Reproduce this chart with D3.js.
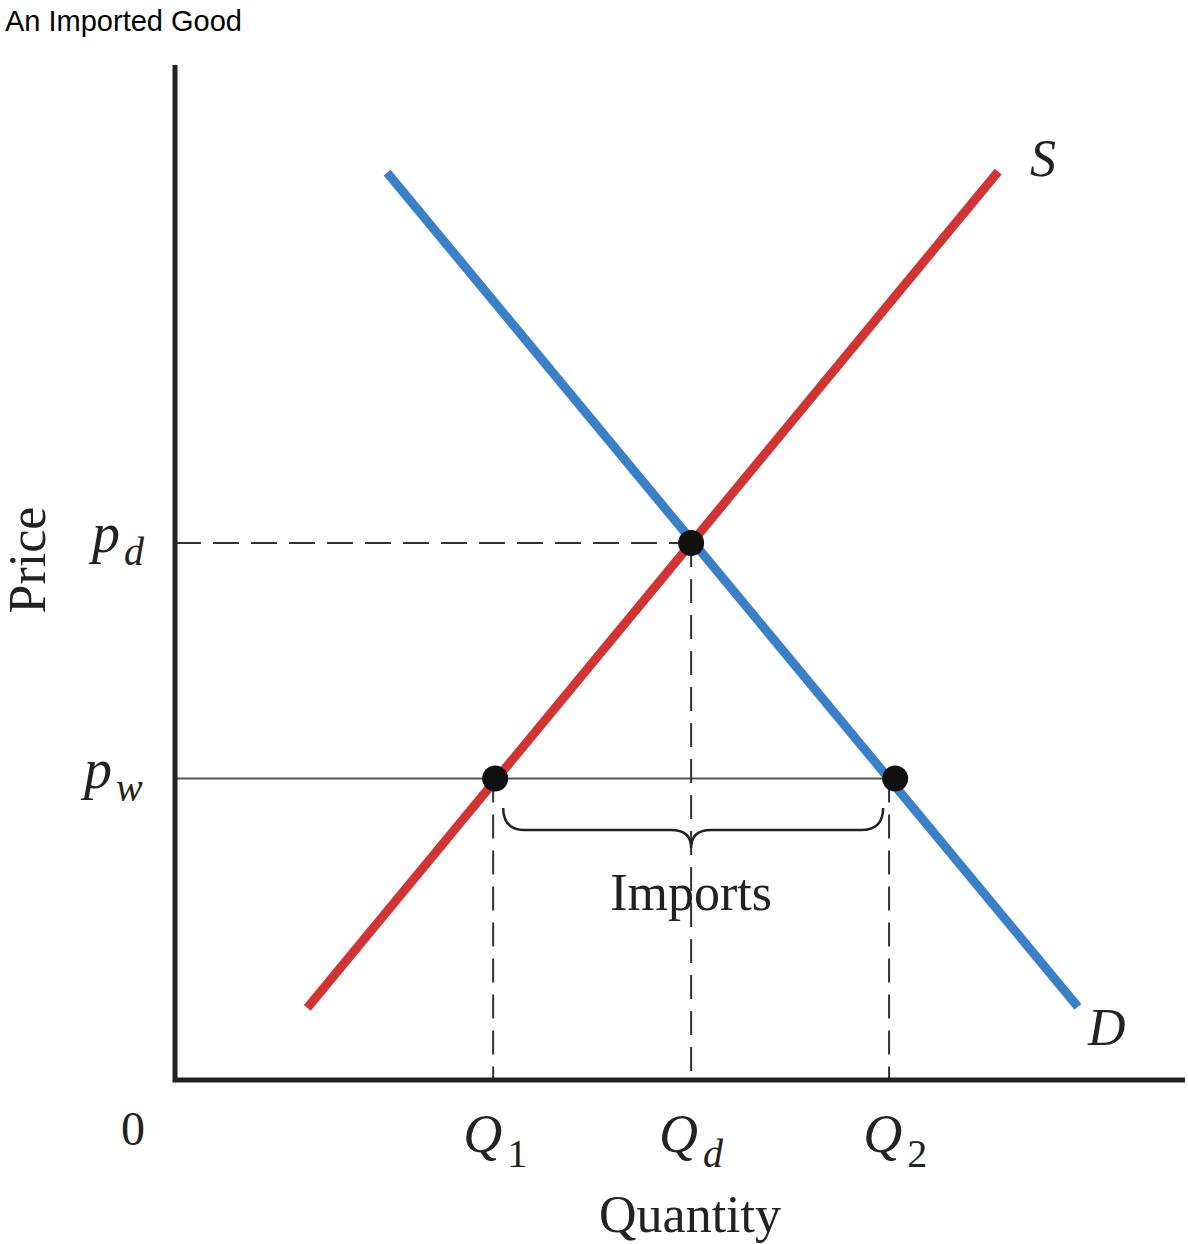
<!DOCTYPE html>
<html><head><meta charset="utf-8">
<script src="https://cdn.jsdelivr.net/npm/d3@7"></script>
<style>body{margin:0;background:#fff}</style>
</head><body>
<script>
const w = 1188, h = 1244;
// curves in data units (0..10 on both axes)
const supply = [[1.31, 0.71], [8.15, 8.95]];
const demand = [[2.10, 8.94], [8.94, 0.72]];
const pd = 5.29, pw = 2.97;
const qd = 5.11, q1 = 3.17, q2 = 7.13;
const points = [[qd, pd], [q1, pw], [q2, pw]];
const qTicks = [{q: q1, sub: "1", it: false}, {q: qd, sub: "d", it: true}, {q: q2, sub: "2", it: false}];

const serif = "'Liberation Serif','DejaVu Serif',serif";
const x = d3.scaleLinear().domain([0, 10]).range([175, 1185]);
const y = d3.scaleLinear().domain([0, 10]).range([1080, 65]);

const svg = d3.select("body").append("svg").attr("width", w).attr("height", h);

svg.append("text").attr("x", 5).attr("y", 31)
   .attr("font-family", "'Liberation Sans',Arial,sans-serif").attr("font-size", 29)
   .text("An Imported Good");

const line = d3.line().x(d => x(d[0])).y(d => y(d[1]));

// guide lines
svg.append("path").attr("d", line([[0, pd], [qd, pd]]))
   .attr("stroke", "#333").attr("stroke-width", 2).attr("stroke-dasharray", "26,12").attr("fill", "none");
svg.append("path").attr("d", line([[0, pw], [q2, pw]]))
   .attr("stroke", "#555").attr("stroke-width", 2).attr("fill", "none");
[q1 - 0.02, qd, q2 - 0.06].forEach(q => {
  svg.append("path").attr("d", line([[q, q === qd ? pd : pw], [q, 0]]))
     .attr("stroke", "#333").attr("stroke-width", 2).attr("stroke-dasharray", "24,12").attr("fill", "none");
});

svg.append("path").attr("d", line(supply)).attr("stroke", "#d23434").attr("stroke-width", 9).attr("fill", "none");
svg.append("path").attr("d", line(demand)).attr("stroke", "#3a80c9").attr("stroke-width", 9).attr("fill", "none");

// axes
svg.append("path").attr("d", line([[0, 10], [0, 0], [10, 0]]))
   .attr("stroke", "#222").attr("stroke-width", 5).attr("fill", "none");

svg.selectAll(".pt").data(points).enter().append("circle")
   .attr("cx", d => x(d[0])).attr("cy", d => y(d[1])).attr("r", 13).attr("fill", "#111");

// brace
const bx0 = x(q1) + 8, bx1 = x(q2) - 12, bm = x(qd), by = 808;
svg.append("path")
   .attr("d", `M${bx0},${by} Q${bx0},${by+22} ${bx0+22},${by+22} L${bm-20},${by+22} Q${bm},${by+22} ${bm},${by+40}
               Q${bm},${by+22} ${bm+20},${by+22} L${bx1-22},${by+22} Q${bx1},${by+22} ${bx1},${by}`)
   .attr("stroke", "#222").attr("stroke-width", 2.5).attr("fill", "none");
svg.append("text").attr("x", bm).attr("y", 910).attr("text-anchor", "middle")
   .attr("font-family", serif).attr("font-size", 52).attr("fill", "#222").text("Imports");

const lab = (tx, ty, txt, size, italic, anchor) => svg.append("text").attr("x", tx).attr("y", ty)
   .attr("font-family", serif).attr("font-size", size).attr("font-style", italic ? "italic" : "normal")
   .attr("text-anchor", anchor || "start").attr("fill", "#222").text(txt);

lab(1030, 176, "S", 52, true);
lab(1088, 1045, "D", 52, true);

lab(92, 552, "p", 56, true); lab(124, 565, "d", 40, true);
lab(84, 788, "p", 56, true); lab(116, 801, "w", 40, true);
lab(133, 1145, "0", 48, false, "middle");

qTicks.forEach(t => {
  const cx = x(t.q);
  lab(cx - 32, 1152, "Q", 54, true);
  lab(cx + 12, 1167, t.sub, 40, t.it);
});
lab(690, 1232, "Quantity", 52, false, "middle");
svg.append("text").attr("transform", "translate(45,560) rotate(-90)").attr("text-anchor", "middle")
   .attr("font-family", serif).attr("font-size", 52).attr("fill", "#222").text("Price");
</script>
</body></html>
